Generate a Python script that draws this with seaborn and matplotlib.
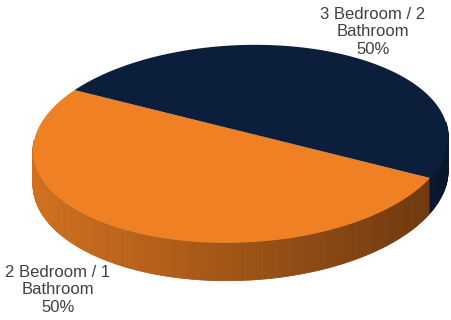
import numpy as np
import matplotlib
matplotlib.use("Agg")
import matplotlib.pyplot as plt
import seaborn as sns
from matplotlib.transforms import Transform, Affine2D
from matplotlib.path import Path

# data
labels = ["2 Bedroom / 1\nBathroom", "3 Bedroom / 2\nBathroom"]
values = [50, 50]
top_colors = ["#f08024", "#0b1f3d"]

# view of the tilted 3d disc (pixel units, y down)
CX, CY = 240, 131
RX, RY = 206, 97
TILT = 0.13
ROT = np.deg2rad(2.5)
THICK = 33
START = 148


def project(u, v):
    u = np.asarray(u, float)
    v = np.asarray(v, float)
    w = 1 + TILT * v
    x0 = RX * u / w
    y0 = -RY * v / w
    c, s = np.cos(ROT), np.sin(ROT)
    return CX + x0 * c + y0 * s, CY - x0 * s + y0 * c, w


class TiltView(Transform):
    input_dims = output_dims = 2
    is_separable = False
    has_inverse = False

    def transform_non_affine(self, values):
        values = np.asarray(values, float)
        x, y, _ = project(values[:, 0], values[:, 1])
        return np.column_stack([x, y])

    def transform_path_non_affine(self, path):
        polys = path.to_polygons(transform=Affine2D().scale(1000), closed_only=True)
        verts = np.concatenate(polys) / 1000
        return Path(self.transform_non_affine(verts), closed=True)


sns.set_theme(style="white")
plt.rcParams["font.family"] = ["Liberation Sans", "DejaVu Sans"]

fig = plt.figure(figsize=(4.51, 3.20), dpi=100)
ax = fig.add_axes([0, 0, 1, 1])

wedges, _ = ax.pie(values, colors=top_colors, startangle=START,
                   counterclock=True, radius=1, center=(0, 0))
ax.set_aspect("auto")
ax.set_xlim(0, 451)
ax.set_ylim(320, 0)
ax.axis("off")

# side walls: only the front half of the rim (180..360 deg) shows
side_light = np.array(matplotlib.colors.to_rgb("#d2711f"))
side_dark = np.array(matplotlib.colors.to_rgb("#6a360e"))
for wdg, col in zip(wedges, top_colors):
    t1, t2 = wdg.theta1, wdg.theta2
    if t2 > 360:
        lo, hi = max(t1, 180), 360
    else:
        lo, hi = max(t1, 180), min(t2, 360)
    if hi <= lo:
        continue
    th = np.deg2rad(np.append(np.arange(lo, hi, 1.0), hi))
    x, y, w = project(np.cos(th), np.sin(th))
    yb = y + THICK / w
    base = np.array(matplotlib.colors.to_rgb(col))
    for i in range(len(th) - 1):
        xs = [x[i], x[i + 1], x[i + 1], x[i]]
        ys = [y[i], y[i + 1], yb[i + 1], yb[i]]
        if col == top_colors[0]:
            t = np.clip((x[i] - 30) / 420, 0, 1)
            c = side_light * (1 - t) + side_dark * t
        else:
            c = base * 0.75
        ax.fill(xs, ys, color=c, lw=0.6, ec=c, zorder=1)

for wdg in wedges:
    wdg.set_transform(TiltView() + ax.transData)
    wdg.set_zorder(3)
    wdg.set_edgecolor("none")

# labels
total = sum(values)
pos = [(58, 290), (373, 32)]
for lab, val, (px, py) in zip(labels, values, pos):
    ax.text(px, py, f"{lab}\n{val / total * 100:.0f}%", ha="center", va="center",
            fontsize=12, color="#404040", linespacing=1.2, zorder=5)

fig.savefig("out.png", dpi=100)
